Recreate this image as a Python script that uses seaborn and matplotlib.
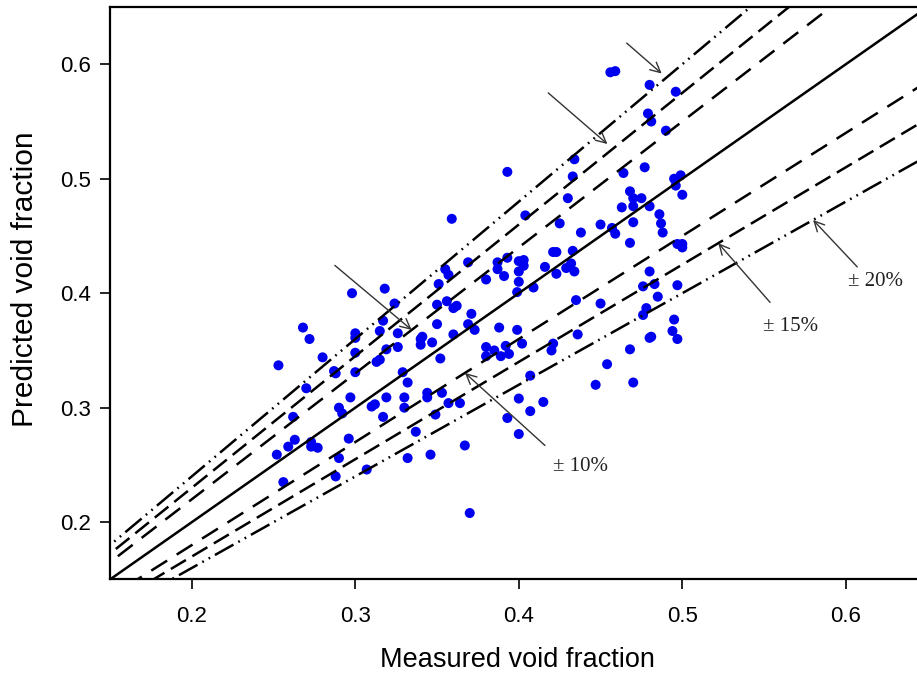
import numpy as np
import pandas as pd
import matplotlib
matplotlib.use("Agg")
import matplotlib.pyplot as plt
import seaborn as sns

# ---- data ----
measured = [
    0.456, 0.459, 0.480, 0.496, 0.479, 0.481, 0.490, 0.434, 0.477, 0.433,
    0.464, 0.495, 0.499, 0.496, 0.500, 0.430, 0.468, 0.470, 0.475, 0.463,
    0.470, 0.480, 0.486, 0.425, 0.450, 0.470, 0.487, 0.438, 0.457, 0.459,
    0.488, 0.468, 0.497, 0.500, 0.500, 0.421, 0.423, 0.433, 0.432, 0.429,
    0.434, 0.423, 0.480, 0.497, 0.476, 0.483, 0.485, 0.435, 0.450, 0.478,
    0.476, 0.495, 0.494, 0.497, 0.436, 0.421, 0.420, 0.480, 0.481, 0.468,
    0.454, 0.447, 0.470,
    0.393, 0.359, 0.404,
    0.369, 0.355, 0.357, 0.351, 0.380, 0.387, 0.387, 0.393, 0.400, 0.403,
    0.403, 0.400, 0.391, 0.400, 0.416, 0.399, 0.409, 0.350, 0.356, 0.360,
    0.362, 0.371, 0.350, 0.369, 0.373, 0.388, 0.399, 0.341, 0.340, 0.340,
    0.347, 0.360, 0.380, 0.385, 0.392, 0.402, 0.380, 0.389, 0.394, 0.352,
    0.329, 0.332, 0.407, 0.344, 0.344, 0.353, 0.330, 0.400,
    0.298, 0.318, 0.324, 0.268, 0.272, 0.317, 0.315, 0.300, 0.300, 0.326,
    0.319, 0.326, 0.300, 0.280, 0.253, 0.313, 0.315, 0.287, 0.288, 0.300,
    0.270, 0.297, 0.319,
    0.262, 0.290, 0.292, 0.310, 0.312, 0.317, 0.330, 0.349, 0.357, 0.364,
    0.415, 0.407, 0.393, 0.400, 0.367, 0.337, 0.346, 0.332, 0.307, 0.296,
    0.290, 0.288, 0.263, 0.259, 0.273, 0.273, 0.277, 0.252, 0.256, 0.370,
]
predicted = [
    0.593, 0.594, 0.582, 0.576, 0.557, 0.550, 0.542, 0.517, 0.510, 0.502,
    0.505, 0.500, 0.503, 0.494, 0.486, 0.483, 0.489, 0.483, 0.483, 0.475,
    0.476, 0.476, 0.469, 0.461, 0.460, 0.462, 0.461, 0.453, 0.457, 0.452,
    0.453, 0.444, 0.443, 0.443, 0.440, 0.436, 0.436, 0.437, 0.426, 0.422,
    0.419, 0.417, 0.419, 0.407, 0.406, 0.408, 0.397, 0.394, 0.391, 0.387,
    0.381, 0.377, 0.367, 0.360, 0.364, 0.356, 0.350, 0.361, 0.362, 0.351,
    0.338, 0.320, 0.322,
    0.506, 0.465, 0.468,
    0.427, 0.421, 0.416, 0.408, 0.412, 0.427, 0.421, 0.431, 0.428, 0.429,
    0.424, 0.419, 0.415, 0.410, 0.423, 0.401, 0.405, 0.390, 0.393, 0.387,
    0.389, 0.382, 0.373, 0.373, 0.368, 0.370, 0.368, 0.362, 0.360, 0.355,
    0.357, 0.364, 0.353, 0.350, 0.354, 0.356, 0.345, 0.345, 0.347, 0.343,
    0.331, 0.322, 0.328, 0.313, 0.309, 0.313, 0.309, 0.308,
    0.400, 0.404, 0.391, 0.370, 0.360, 0.376, 0.367, 0.365, 0.361, 0.365,
    0.351, 0.353, 0.348, 0.344, 0.337, 0.340, 0.342, 0.332, 0.330, 0.331,
    0.317, 0.309, 0.309,
    0.292, 0.300, 0.295, 0.301, 0.303, 0.292, 0.300, 0.294, 0.304, 0.304,
    0.305, 0.297, 0.291, 0.277, 0.267, 0.279, 0.259, 0.256, 0.246, 0.273,
    0.256, 0.240, 0.272, 0.266, 0.270, 0.266, 0.265, 0.259, 0.235, 0.208,
]

bands = [0.10, 0.15, 0.20]                 # +/- deviation bands
band_labels = ["\u00b1 10%", "\u00b1 15%", "\u00b1 20%"]
x_ticks = [0.2, 0.3, 0.4, 0.5, 0.6]
y_ticks = [0.2, 0.3, 0.4, 0.5, 0.6]
x_label = "Measured void fraction"
y_label = "Predicted void fraction"

df = pd.DataFrame({"measured": measured, "predicted": predicted})

# ---- styling ----
sns.set_style("ticks")
plt.rcParams["font.family"] = ["Liberation Sans", "DejaVu Sans"]

fig = plt.figure(figsize=(9.17, 6.75), dpi=100)
ax = fig.add_axes([0.120, 0.1416, 0.8915, 0.848])

# reference lines
xline = np.array([0.0, 1.0])
line_df = pd.DataFrame({"x": xline, "y": xline})
sns.lineplot(data=line_df, x="x", y="y", ax=ax, color="black", lw=1.8, zorder=3)

dash_styles = {
    0.10: (7.5, 4.5),
    0.15: (7.0, 3.0),
    0.20: (8.5, 2.2, 0.7, 2.2, 0.7, 2.2),
}
for b in bands:
    for sgn in (1, -1):
        ldf = pd.DataFrame({"x": xline, "y": xline * (1 + sgn * b)})
        l = sns.lineplot(data=ldf, x="x", y="y", ax=ax, color="black",
                         lw=1.8, zorder=3)
        l.get_lines()[-1].set_dashes(dash_styles[b])

# points
sns.scatterplot(data=df, x="measured", y="predicted", ax=ax,
                color="#0000F0", s=52, edgecolor="none", zorder=2)

ax.set_xlim(0.15, 0.65)
ax.set_ylim(0.15, 0.65)
ax.set_xticks(x_ticks)
ax.set_yticks(y_ticks)
ax.set_xticklabels([f"{t:.1f}" for t in x_ticks])
ax.set_yticklabels([f"{t:.1f}" for t in y_ticks])
ax.tick_params(axis="x", direction="out", length=7, width=1.2, pad=12,
               labelsize=16, colors="black")
ax.tick_params(axis="y", direction="out", length=7, width=1.2, pad=7,
               labelsize=16, colors="black")
for sp in ["left", "bottom", "top"]:
    ax.spines[sp].set_visible(True)
    ax.spines[sp].set_linewidth(1.6)
    ax.spines[sp].set_color("black")
ax.spines["right"].set_visible(False)

ax.set_xlabel(x_label, fontsize=19.5, color="black")
ax.set_ylabel(y_label, fontsize=21.5, color="black")
ax.xaxis.set_label_coords(0.498, -0.141)
ax.xaxis.label.set_verticalalignment("center")
ax.yaxis.set_label_coords(-0.104, 0.525)
ax.yaxis.label.set_verticalalignment("center")

# annotations (arrows pointing at the bands)
arrow_kw = dict(arrowstyle="->", color="#333333", lw=1.0,
                mutation_scale=18, shrinkA=0, shrinkB=0)
serif = ["Liberation Serif", "DejaVu Serif"]

# upper bands: arrows only
upper = [(0.10, 0.3345, (0.2875, 0.4243), 0.0),
         (0.15, 0.4542, (0.418, 0.575), 0.008),
         (0.20, 0.4874, (0.466, 0.6185), 0.007)]
for b, xt, tail, off in upper:
    ax.annotate("", xy=(xt, xt * (1 + b) + off), xytext=tail,
                arrowprops=arrow_kw, annotation_clip=False)

# lower bands: arrows with labels
lower = [(0.10, 0.3671, (0.416, 0.267), (0.4375, 0.249)),
         (0.15, 0.5220, (0.5537, 0.392), (0.566, 0.371)),
         (0.20, 0.5800, (0.607, 0.423), (0.618, 0.410))]
for (b, xt, tail, txt), lab in zip(lower, band_labels):
    ax.annotate("", xy=(xt, xt * (1 - b)), xytext=tail,
                arrowprops=arrow_kw, annotation_clip=False)
    ax.text(txt[0], txt[1], lab, fontsize=15, family=serif,
            color="#222222", ha="center", va="center")

fig.savefig("out.png", dpi=100)
